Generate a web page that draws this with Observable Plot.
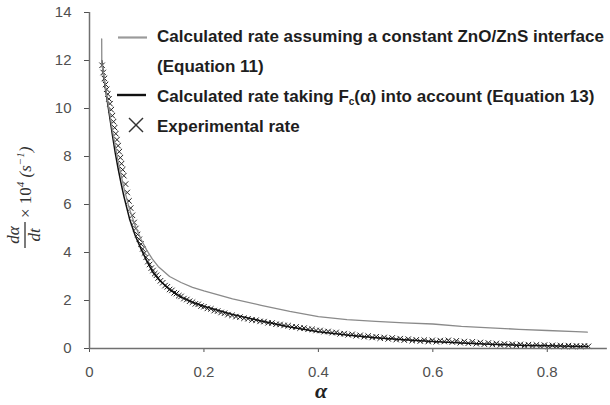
<!DOCTYPE html>
<html>
<head>
<meta charset="utf-8">
<script src="https://cdn.jsdelivr.net/npm/d3@7"></script>
<script src="https://cdn.jsdelivr.net/npm/@observablehq/plot@0.6"></script>
<style>
  body { margin: 0; background: #fff; }
  #chart svg { display: block; }
</style>
</head>
<body>
<div id="chart"></div>
<script>
// Calculated rate assuming a constant ZnO/ZnS interface (Equation 11)
const eq11Alpha = [0.0213, 0.0215, 0.025, 0.03, 0.035, 0.04, 0.05, 0.06, 0.07, 0.08, 0.09, 0.1, 0.11, 0.12, 0.14, 0.16, 0.18, 0.2, 0.25, 0.3, 0.35, 0.4, 0.45, 0.5, 0.55, 0.6, 0.65, 0.7, 0.75, 0.8, 0.85, 0.87];
const eq11Rate  = [12.9, 11.9, 11.35, 10.55, 9.85, 9.1, 7.8, 6.7, 5.8, 5.1, 4.55, 4.1, 3.72, 3.42, 3.0, 2.75, 2.55, 2.4, 2.07, 1.8, 1.55, 1.33, 1.2, 1.13, 1.07, 1.02, 0.92, 0.86, 0.8, 0.75, 0.7, 0.68];

// Calculated rate taking Fc(α) into account (Equation 13)
const eq13Alpha = [0.0215, 0.025, 0.031, 0.035, 0.04, 0.045, 0.05, 0.055, 0.06, 0.07, 0.08, 0.09, 0.1, 0.11, 0.12, 0.14, 0.16, 0.18, 0.2, 0.25, 0.3, 0.35, 0.4, 0.45, 0.5, 0.55, 0.6, 0.65, 0.7, 0.75, 0.8, 0.87];
const eq13Rate  = [12.0, 11.3, 10.33, 9.7, 8.9, 8.15, 7.5, 6.9, 6.35, 5.4, 4.7, 4.15, 3.65, 3.2, 2.9, 2.45, 2.14, 1.93, 1.76, 1.42, 1.15, 0.9, 0.7, 0.56, 0.45, 0.36, 0.29, 0.23, 0.18, 0.14, 0.11, 0.08];

// Experimental rate
const expAlpha = [
  0.022, 0.024, 0.026, 0.028, 0.030, 0.032, 0.034, 0.036, 0.038, 0.040,
  0.042, 0.044, 0.046, 0.048, 0.050, 0.052, 0.054, 0.056, 0.058, 0.060,
  0.063, 0.066, 0.069, 0.072, 0.075, 0.078, 0.081, 0.084, 0.087, 0.090,
  0.093, 0.096, 0.099, 0.102, 0.105, 0.108, 0.111, 0.114, 0.117, 0.120,
  0.124, 0.128, 0.132, 0.136, 0.140, 0.144, 0.148, 0.152, 0.156, 0.160,
  0.165, 0.170, 0.175, 0.180, 0.185, 0.190, 0.195, 0.200, 0.206, 0.212,
  0.218, 0.224, 0.230, 0.236,
  0.242, 0.249, 0.256, 0.263, 0.270, 0.277, 0.284, 0.291, 0.298, 0.305,
  0.312, 0.319, 0.326, 0.333, 0.340, 0.347, 0.354, 0.361, 0.368, 0.375,
  0.382, 0.389, 0.396, 0.403, 0.410, 0.417, 0.424, 0.431, 0.438, 0.445,
  0.452, 0.459, 0.466, 0.473, 0.480, 0.487, 0.494, 0.501, 0.508, 0.515,
  0.522, 0.529, 0.536, 0.543, 0.550, 0.557, 0.564, 0.571, 0.578, 0.585,
  0.592, 0.599, 0.606, 0.613, 0.620, 0.627, 0.634, 0.641, 0.648, 0.655,
  0.662, 0.669, 0.676, 0.683, 0.690, 0.697, 0.704, 0.711, 0.718, 0.725,
  0.732, 0.739, 0.746, 0.753, 0.760, 0.767, 0.774, 0.781, 0.788, 0.795,
  0.802, 0.809, 0.816, 0.823, 0.830, 0.837, 0.844, 0.851, 0.858, 0.865, 0.872
];
const expRate = [
  11.8, 11.5, 11.25, 11.0, 10.8, 10.6, 10.4, 10.2, 9.95, 9.7,
  9.45, 9.2, 8.95, 8.7, 8.45, 8.2, 7.95, 7.7, 7.45, 7.2,
  6.85, 6.5, 6.15, 5.85, 5.55, 5.25, 5.0, 4.75, 4.55, 4.35,
  4.15, 3.98, 3.8, 3.62, 3.5, 3.35, 3.25, 3.12, 3.05, 2.94,
  2.82, 2.74, 2.62, 2.57, 2.46, 2.42, 2.32, 2.29, 2.2, 2.17,
  2.08, 2.04, 1.97, 1.93, 1.86, 1.84, 1.77, 1.74, 1.67, 1.65,
  1.58, 1.56, 1.5, 1.47,
  1.41, 1.38, 1.33, 1.31, 1.26, 1.24, 1.19, 1.18, 1.13, 1.12,
  1.07, 1.06, 1.01, 1.0, 0.96, 0.95, 0.9, 0.9, 0.85, 0.85,
  0.8, 0.8, 0.75, 0.75, 0.7, 0.71, 0.66, 0.67, 0.61, 0.62,
  0.57, 0.59, 0.53, 0.55, 0.49, 0.52, 0.46, 0.49, 0.43, 0.46,
  0.4, 0.44, 0.37, 0.41, 0.35, 0.39, 0.33, 0.36, 0.31, 0.35,
  0.29, 0.34, 0.28, 0.33, 0.29, 0.34, 0.27, 0.32, 0.24, 0.29,
  0.22, 0.28, 0.2, 0.25, 0.18, 0.23, 0.17, 0.21, 0.15, 0.19,
  0.14, 0.18, 0.13, 0.17, 0.12, 0.16, 0.11, 0.15, 0.1, 0.14,
  0.09, 0.13, 0.09, 0.12, 0.08, 0.12, 0.08, 0.11, 0.08, 0.11, 0.09
];

// Axis ticks and their labels
const xTicks = [0, 0.2, 0.4, 0.6, 0.8];
const xTickLabels = ["0", "0.2", "0.4", "0.6", "0.8"];
const yTicks = [0, 2, 4, 6, 8, 10, 12, 14];
const yTickLabels = ["0", "2", "4", "6", "8", "10", "12", "14"];

const legendLabels = [
  "Calculated rate assuming a constant ZnO/ZnS interface",
  "(Equation 11)",
  "Experimental rate"
];

const eq11 = eq11Alpha.map((a, i) => ({alpha: a, rate: eq11Rate[i]}));
const eq13 = eq13Alpha.map((a, i) => ({alpha: a, rate: eq13Rate[i]}));
const exp = expAlpha.map((a, i) => ({alpha: a, rate: expRate[i]}));

const axisGray = "#707070";

const chart = Plot.plot({
  width: 610,
  height: 405,
  marginLeft: 89,
  marginRight: 6,
  marginTop: 12,
  marginBottom: 57,
  style: {fontFamily: "'Liberation Sans', Arial, sans-serif", fontSize: "15px", color: "#505050", background: "#fff"},
  x: {
    domain: [0, 0.9],
    ticks: xTicks,
    tickFormat: d => xTickLabels[xTicks.indexOf(d)],
    tickSize: 4,
    tickPadding: 14,
    label: null
  },
  y: {
    domain: [0, 14],
    ticks: yTicks,
    tickFormat: d => yTickLabels[yTicks.indexOf(d)],
    tickSize: 5,
    tickPadding: 13,
    label: null
  },
  marks: [
    Plot.dot(exp, {x: "alpha", y: "rate", symbol: "times", r: 2.6, stroke: "#222", strokeWidth: 1}),
    Plot.line(eq13, {x: "alpha", y: "rate", stroke: "#111", strokeWidth: 1.5}),
    Plot.line(eq11, {x: "alpha", y: "rate", stroke: "#8a8a8a", strokeWidth: 1.3}),
    Plot.ruleX([0], {stroke: axisGray, strokeWidth: 1.5}),
    Plot.ruleY([0], {stroke: axisGray, strokeWidth: 1.5, x1: 0, x2: 0.905})
  ]
});

document.getElementById("chart").appendChild(chart);

const svg = d3.select(chart);
const legendFont = "'Liberation Sans', Arial, sans-serif";

// Legend inside the plot area
const legend = svg.append("g").attr("font-family", legendFont).attr("font-size", 17).attr("font-weight", "bold")
  .attr("fill", "#1e1e1e").attr("text-anchor", "start");
legend.append("line").attr("x1", 118).attr("x2", 147).attr("y1", 37.5).attr("y2", 37.5).attr("stroke", "#9a9a9a").attr("stroke-width", 2.2);
legend.append("line").attr("x1", 117).attr("x2", 146).attr("y1", 95).attr("y2", 95).attr("stroke", "#111").attr("stroke-width", 2.4);
const mk = legend.append("g").attr("stroke", "#333").attr("stroke-width", 1.4);
mk.append("line").attr("x1", 129).attr("y1", 118).attr("x2", 143).attr("y2", 132);
mk.append("line").attr("x1", 143).attr("y1", 118).attr("x2", 129).attr("y2", 132);
legend.append("text").attr("x", 157).attr("y", 42).text(legendLabels[0]);
legend.append("text").attr("x", 157).attr("y", 71.5).text(legendLabels[1]);
const l3 = legend.append("text").attr("x", 157).attr("y", 101.5);
l3.append("tspan").text("Calculated rate taking F");
l3.append("tspan").attr("font-size", 10).attr("dy", 3).text("c");
l3.append("tspan").attr("dy", -3).text("(α) into account (Equation 13)");
legend.append("text").attr("x", 157).attr("y", 131.5).text(legendLabels[2]);

// x-axis title
svg.append("text").attr("x", 321).attr("y", 398).attr("text-anchor", "middle")
  .attr("font-family", "'Liberation Serif', 'Times New Roman', serif").attr("font-style", "italic").attr("font-weight", "bold")
  .attr("font-size", 22).attr("fill", "#222").text("α");

// y-axis title: dα/dt × 10⁴ (s⁻¹), rotated
const yl = svg.append("g").attr("transform", "translate(25,188) rotate(-90)")
  .attr("font-family", "'Liberation Serif', 'Times New Roman', serif").attr("font-style", "italic")
  .attr("fill", "#333").attr("font-size", 17);
yl.append("text").attr("x", -47).attr("y", -6).attr("text-anchor", "middle").text("dα");
yl.append("line").attr("x1", -60).attr("x2", -34).attr("y1", 0).attr("y2", 0).attr("stroke", "#333").attr("stroke-width", 1.3);
yl.append("text").attr("x", -47).attr("y", 15).attr("text-anchor", "middle").text("dt");
const yt = yl.append("text").attr("x", -30).attr("y", 6).attr("text-anchor", "start");
yt.append("tspan").attr("font-style", "normal").text("× 10");
yt.append("tspan").attr("font-size", 11).attr("dy", -7).text("4");
yt.append("tspan").attr("dy", 7).text(" (s");
yt.append("tspan").attr("font-size", 11).attr("dy", -7).text("−1");
yt.append("tspan").attr("dy", 7).text(")");
</script>
</body>
</html>
